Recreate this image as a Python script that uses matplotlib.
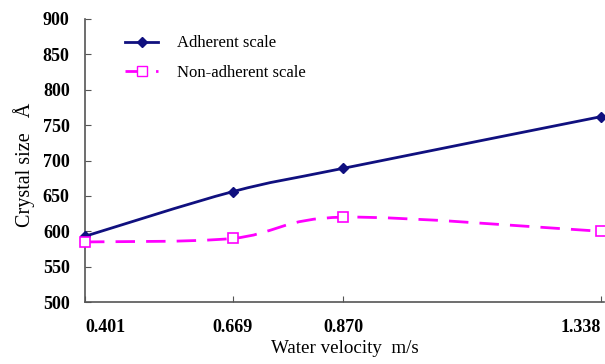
import numpy as np
import matplotlib.pyplot as plt
from matplotlib.path import Path
from matplotlib.patches import PathPatch
from matplotlib.lines import Line2D

plt.rcParams['font.family'] = ['Liberation Serif', 'DejaVu Serif']

velocity = [0.401, 0.669, 0.870, 1.338]
adherent = [593, 656, 689, 762]
non_adherent = [585, 590, 620, 600]
tick_labels = ['0.401', '0.669', '0.870', '1.338']

navy = '#10107f'
magenta = '#ff00ff'


def smooth_path(xs, ys):
    # catmull-rom style bezier through the points, like excel's smoothed line
    p = np.column_stack([xs, ys]).astype(float)
    ext = np.vstack([p[0], p, p[-1]])
    verts = [p[0]]
    codes = [Path.MOVETO]
    for i in range(1, len(ext) - 2):
        p0, p1, p2, p3 = ext[i - 1], ext[i], ext[i + 1], ext[i + 2]
        verts += [p1 + (p2 - p0) / 6, p2 - (p3 - p1) / 6, p2]
        codes += [Path.CURVE4] * 3
    return Path(verts, codes)


fig = plt.figure(figsize=(6.05, 3.64), dpi=100)
ax = fig.add_axes([0.1405, 0.170, 0.858, 0.778])

ax.add_patch(PathPatch(smooth_path(velocity, adherent), fill=False,
                       edgecolor=navy, lw=2))
ax.add_patch(PathPatch(smooth_path(velocity, non_adherent), fill=False,
                       edgecolor=magenta, lw=2, linestyle=(0, (7, 4))))
ax.plot(velocity, adherent, ls='none', marker='D', ms=5, color=navy,
        clip_on=False, zorder=3)
ax.plot(velocity, non_adherent, ls='none', marker='s', ms=6.5,
        mfc='white', mec=magenta, mew=1.2, clip_on=False, zorder=3)

ax.set_xlim(0.401, 1.3434)
ax.set_ylim(500, 900)
ax.set_yticks(range(500, 901, 50))
ax.set_xticks(velocity)
ax.set_xticklabels(tick_labels)
xl = ax.get_xticklabels()
xl[0].set_ha('left')
xl[-1].set_ha('right')

for s in ['top', 'right']:
    ax.spines[s].set_visible(False)
for s in ['left', 'bottom']:
    ax.spines[s].set_color('#555555')
    ax.spines[s].set_linewidth(1.2)
ax.tick_params(direction='in', length=4, color='#555555', labelsize=13)
ax.tick_params(axis='y', pad=11)
ax.tick_params(axis='x', pad=12)
for t in ax.get_xticklabels() + ax.get_yticklabels():
    t.set_fontweight('bold')

ax.set_xlabel('Water velocity  m/s', fontsize=13.7, labelpad=3)
ax.set_ylabel('Crystal size   Å', fontsize=14.5, labelpad=6)
ax.yaxis.set_label_coords(-0.097, 0.485)

handles = [
    Line2D([], [], color=navy, lw=2, marker='D', ms=5),
    Line2D([], [], color=magenta, lw=2, ls=(0, (7, 4)), marker='s', ms=7,
           mfc='white', mec=magenta),
]
ax.legend(handles, ['Adherent scale', 'Non-adherent scale'],
          loc='upper left', bbox_to_anchor=(0.077, 0.942), frameon=False,
          borderpad=0, borderaxespad=0,
          fontsize=12, handlelength=2.0, handletextpad=1.15, labelspacing=0.8)

fig.savefig('out.png', dpi=100)
